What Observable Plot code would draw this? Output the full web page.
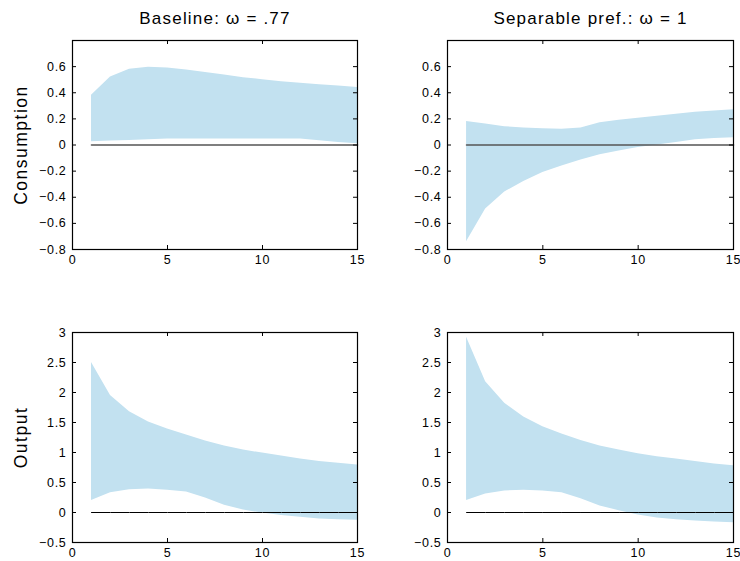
<!DOCTYPE html>
<html>
<head>
<meta charset="utf-8">
<script src="https://cdn.jsdelivr.net/npm/d3@7"></script>
<script src="https://cdn.jsdelivr.net/npm/@observablehq/plot@0.6"></script>
<style>
  body { margin: 0; background: #fff; }
  #wrap { position: relative; width: 740px; height: 561px; overflow: hidden; }
  .cell { position: absolute; }
  g[aria-label$="tick label"] text { letter-spacing: 0.7px; }
</style>
</head>
<body>
<div id="wrap"></div>
<script>
const horizon = [1, 2, 3, 4, 5, 6, 7, 8, 9, 10, 11, 12, 13, 14, 15];
const xTicks = [0, 5, 10, 15];
const consTicks = [-0.8, -0.6, -0.4, -0.2, 0, 0.2, 0.4, 0.6];
const outTicks = [-0.5, 0, 0.5, 1, 1.5, 2, 2.5, 3];
const titles = ["Baseline: ω = .77", "Separable pref.: ω = 1"];
const rowLabels = ["Consumption", "Output"];

// Consumption, baseline
const consBaseUpper = [0.38, 0.52, 0.58, 0.595, 0.59, 0.575, 0.555, 0.535, 0.515, 0.50, 0.485, 0.472, 0.462, 0.452, 0.44];
const consBaseLower = [0.025, 0.03, 0.035, 0.04, 0.045, 0.045, 0.045, 0.045, 0.045, 0.045, 0.045, 0.045, 0.032, 0.02, 0.01];
// Consumption, separable
const consSepUpper = [0.18, 0.16, 0.14, 0.13, 0.125, 0.12, 0.13, 0.17, 0.19, 0.205, 0.22, 0.235, 0.25, 0.26, 0.27];
const consSepLower = [-0.74, -0.49, -0.36, -0.28, -0.21, -0.16, -0.115, -0.075, -0.045, -0.02, 0.0, 0.02, 0.04, 0.05, 0.055];
// Output, baseline
const outBaseUpper = [2.5, 1.95, 1.68, 1.51, 1.39, 1.29, 1.19, 1.11, 1.04, 0.99, 0.94, 0.89, 0.85, 0.82, 0.79];
const outBaseLower = [0.2, 0.33, 0.38, 0.39, 0.37, 0.34, 0.24, 0.12, 0.04, -0.01, -0.05, -0.08, -0.11, -0.12, -0.13];
// Output, separable
const outSepUpper = [2.92, 2.18, 1.82, 1.59, 1.43, 1.31, 1.20, 1.11, 1.04, 0.98, 0.93, 0.89, 0.85, 0.81, 0.78];
const outSepLower = [0.2, 0.31, 0.36, 0.37, 0.36, 0.33, 0.23, 0.11, 0.03, -0.04, -0.09, -0.12, -0.14, -0.16, -0.17];

const fmt = d => (d < 0 ? "\u2212" : "") + String(Math.abs(d));

function panel(o) {
  const W = o.width - o.ml - o.mr;
  const H = o.height - o.mt - o.mb;
  const band = horizon.map((h, i) => ({h, lo: o.lower[i], hi: o.upper[i]}));
  const zero = horizon.map(h => ({h, v: 0}));
  const marks = [
    Plot.areaY(band, {x: "h", y1: "lo", y2: "hi", fill: "#c2e1f0"}),
    Plot.lineY(zero, {x: "h", y: "v", stroke: o.zeroColor, strokeWidth: o.zeroWidth}),
    Plot.tickX(xTicks, {x: d => d, insetTop: H - 4, stroke: "#000"}),
    Plot.tickX(xTicks, {x: d => d, insetBottom: H - 4, stroke: "#000"}),
    Plot.tickY(o.ticks, {y: d => d, insetRight: W - 4, stroke: "#000"}),
    Plot.tickY(o.ticks, {y: d => d, insetLeft: W - 4, stroke: "#000"}),
    Plot.frame({stroke: "#000", strokeWidth: 1.2}),
    Plot.axisX(xTicks, {tickSize: 0, tickPadding: 6, tickFormat: fmt, label: null, fontSize: 12.5}),
    Plot.axisY(o.ticks, {tickSize: 0, tickPadding: 6, tickFormat: fmt, label: null, fontSize: 12.5})
  ];
  if (o.title) marks.push(Plot.text([o.title], {text: d => d, frameAnchor: "top", dy: -22, fontSize: 17, lineAnchor: "middle"}));
  if (o.ylabel) marks.push(Plot.text([o.ylabel], {text: d => d, frameAnchor: "left", dx: o.labelDx, rotate: -90, fontSize: 17.5, textAnchor: "middle", lineAnchor: "middle"}));
  const svg = Plot.plot({
    width: o.width, height: o.height,
    marginLeft: o.ml, marginRight: o.mr, marginTop: o.mt, marginBottom: o.mb,
    style: {fontFamily: "'Liberation Sans', Arial, Helvetica, sans-serif", fontSize: "13px", color: "#000", background: "transparent", overflow: "visible"},
    x: {domain: [0, 15]},
    y: {domain: o.domain},
    marks
  });
  d3.select(svg).selectAll("text").each(function () {
    const t = this.textContent;
    if (titles.includes(t)) this.style.letterSpacing = "1.2px";
    else if (rowLabels.includes(t)) this.style.letterSpacing = "1.5px";
  });
  return svg;
}

const cells = [
  {left: 0, top: 0, width: 370, height: 280, ml: 72, mr: 13, mt: 40, mb: 31, domain: [-0.8, 0.8], ticks: consTicks,
   upper: consBaseUpper, lower: consBaseLower, title: titles[0], ylabel: rowLabels[0], labelDx: -51, zeroColor: "#555", zeroWidth: 1.6},
  {left: 370, top: 0, width: 370, height: 280, ml: 77, mr: 7, mt: 40, mb: 31, domain: [-0.8, 0.8], ticks: consTicks,
   upper: consSepUpper, lower: consSepLower, title: titles[1], zeroColor: "#555", zeroWidth: 1.6},
  {left: 0, top: 280, width: 370, height: 281, ml: 72, mr: 13, mt: 52, mb: 19, domain: [-0.5, 3], ticks: outTicks,
   upper: outBaseUpper, lower: outBaseLower, ylabel: rowLabels[1], labelDx: -51, zeroColor: "#000", zeroWidth: 1},
  {left: 370, top: 280, width: 370, height: 281, ml: 77, mr: 7, mt: 52, mb: 19, domain: [-0.5, 3], ticks: outTicks,
   upper: outSepUpper, lower: outSepLower, zeroColor: "#000", zeroWidth: 1}
];

const wrap = document.getElementById("wrap");
for (const c of cells) {
  const div = document.createElement("div");
  div.className = "cell";
  div.style.left = c.left + "px";
  div.style.top = c.top + "px";
  div.appendChild(panel(c));
  wrap.appendChild(div);
}
</script>
</body>
</html>
